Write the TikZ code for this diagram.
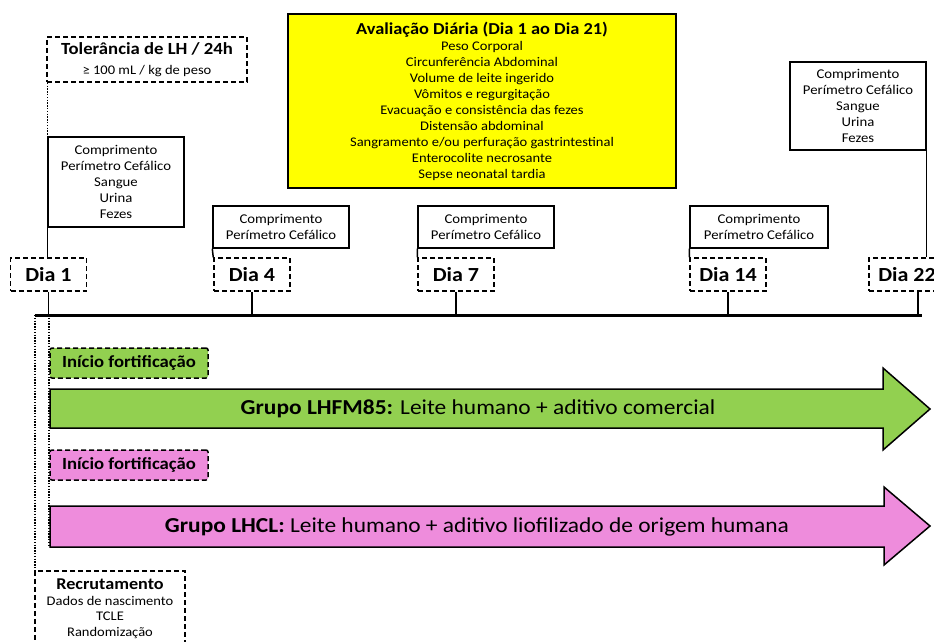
\documentclass[tikz,border=0pt]{standalone}
\usepackage{fontspec}
\setmainfont{Carlito}[FakeStretch=1.1]
\definecolor{lhgreen}{RGB}{146,208,80}
\definecolor{lhpink}{RGB}{238,140,220}
\definecolor{lhyellow}{RGB}{255,255,0}
\tikzset{
 solidbox/.style={draw, line width=1.4pt, fill=white, align=center, inner sep=0pt, font=\fontsize{13.4}{16}\selectfont},
 dashbox/.style={draw, line width=1.5pt, dash pattern=on 5pt off 3pt, fill=white, inner sep=0pt},
 diabox/.style={dashbox, minimum width=76, minimum height=33, font=\bfseries\fontsize{20}{24}\selectfont},
 link/.style={line width=1.5pt},
 dotline/.style={line width=1.4pt, dash pattern=on 1.4pt off 1.4pt},
 startbox/.style={dashbox, rounded corners=2pt, minimum width=158, minimum height=30, font=\bfseries\fontsize{17}{20}\selectfont},
 grparrow/.style={draw, line width=1.5pt, line join=miter},
 grptext/.style={font=\fontsize{21.3}{24}\selectfont, inner sep=0pt},
}
\begin{document}
\begin{tikzpicture}[x=1pt,y=-1pt]
\clip (0,0) rectangle (934,642);
\fill[white] (0,0) rectangle (934,642);

% timeline
\coordinate (tlL) at (35,315);
\coordinate (tlR) at (922,315);
\coordinate (t22) at (918,315);
\coordinate (armL) at (49,547);

% group arrows
\path[grparrow, fill=lhgreen] (50,389) -- (883,389) -- (883,368) -- (930,409) -- (883,450) -- (883,428) -- (50,428) -- cycle;
\node[grptext] (g1) at (478,409) {\textbf{Grupo LHFM85:} Leite humano + aditivo comercial};
\path[grparrow, fill=lhpink] (50,506) -- (884,506) -- (884,487) -- (930,526) -- (884,565) -- (884,547) -- (50,547) -- cycle;
\node[grptext] (g2) at (477,527) {\textbf{Grupo LHCL:} Leite humano + aditivo liofilizado de origem humana};

% start boxes
\node[startbox, fill=lhgreen] (s1) at (129,363) {Início fortificação};
\node[startbox, fill=lhpink] (s2) at (129,465) {Início fortificação};

% top boxes
\node[dashbox, minimum width=200, minimum height=45, align=center, font=\fontsize{13.2}{20}\selectfont] (tol) at (147,59.5)
 {{\bfseries\fontsize{17}{20}\selectfont Tolerância de LH / 24h}\\≥ 100 mL / kg de peso};

\node[draw, line width=1.4pt, fill=lhyellow, minimum width=388, minimum height=174, inner sep=0pt, align=center, font=\fontsize{13.2}{16}\selectfont] (eval) at (482,101)
 {{\bfseries\fontsize{16.7}{17}\selectfont Avaliação Diária (Dia 1 ao Dia 21)}\\Peso Corporal\\Circunferência Abdominal\\Volume de leite ingerido\\Vômitos e regurgitação\\Evacuação e consistência das fezes\\Distensão abdominal\\Sangramento e/ou perfuração gastrintestinal\\Enterocolite necrosante\\Sepse neonatal tardia};

\node[solidbox, minimum width=136, minimum height=90] (c1) at (116,182) {Comprimento\\Perímetro Cefálico\\Sangue\\Urina\\Fezes};
\node[solidbox, minimum width=136, minimum height=42] (c4) at (281,227) {Comprimento\\Perímetro Cefálico};
\node[solidbox, minimum width=136, minimum height=42] (c7) at (486,227) {Comprimento\\Perímetro Cefálico};
\node[solidbox, minimum width=138, minimum height=42] (c14) at (759,227) {Comprimento\\Perímetro Cefálico};
\node[solidbox, minimum width=136, minimum height=88] (c22) at (858,106) {Comprimento\\Perímetro Cefálico\\Sangue\\Urina\\Fezes};

% day boxes
\node[diabox] (d1) at (48.5,274.5) {Dia 1};
\node[diabox] (d4) at (252,274.5) {Dia 4};
\node[diabox] (d7) at (456,274.5) {Dia 7};
\node[diabox] (d14) at (728,274.5) {Dia 14};
\node[diabox] (d22) at (907,274.5) {Dia 22};

% recruitment
\node[dashbox, anchor=north, minimum width=150, minimum height=76, align=center, font=\fontsize{13.2}{15.5}\selectfont] (rec) at (110,570)
 {{\bfseries\fontsize{16.5}{18}\selectfont Recrutamento}\\Dados de nascimento\\TCLE\\Randomização};

% connectors
\draw[dotline] (c1.north west |- tol.south) -- (c1.north west);
\draw[link] (c1.south west) -- (c1.south west |- d1.north);
\draw[link] (c4.south west) -- (d4.north west);
\draw[link] (c7.south west) -- (d7.north west);
\draw[link] (c14.south west) -- (d14.north west);
\draw[link] (c22.south east) -- (c22.south east |- d22.north);
\draw[link] (d1.south) -- (d1.south |- tlL);
\draw[link] (d4.south) -- (d4.south |- tlL);
\draw[link] (d7.south) -- (d7.south |- tlL);
\draw[link] (d14.south) -- (d14.south |- tlL);
\draw[link] (t22 |- d22.south) -- (t22);
\draw[line width=3pt] (tlL) -- (tlR);
\draw[dotline] (tlL) -- (tlL |- rec.north);
\draw[dotline] (armL |- tlL) -- (armL);
\end{tikzpicture}
\end{document}
